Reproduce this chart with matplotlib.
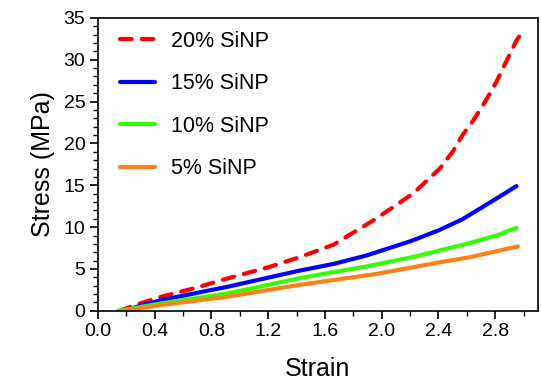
import matplotlib
matplotlib.use("Agg")
import matplotlib.pyplot as plt
from matplotlib.ticker import MultipleLocator

plt.rcParams['font.family'] = ['Liberation Sans', 'DejaVu Sans']

# --- data ---
strain_20 = [0.15, 0.30, 0.45, 0.70, 0.92, 1.20, 1.42, 1.66, 1.96, 2.22, 2.41, 2.50, 2.57, 2.64, 2.73, 2.81, 2.89, 2.95, 2.97]
stress_20 = [0.0, 0.9, 1.7, 2.8, 3.9, 5.2, 6.4, 7.9, 11.0, 14.0, 17.0, 19.0, 21.0, 22.6, 25.0, 27.4, 30.2, 32.3, 32.8]

strain_15 = [0.17, 0.45, 0.92, 1.42, 1.66, 1.89, 2.20, 2.40, 2.57, 2.75, 2.95]
stress_15 = [0.0, 1.3, 2.9, 4.8, 5.6, 6.6, 8.3, 9.6, 10.95, 12.8, 14.9]

strain_10 = [0.14, 0.45, 0.92, 1.42, 1.89, 2.24, 2.62, 2.83, 2.88, 2.95]
stress_10 = [0.0, 0.9, 2.1, 3.9, 5.3, 6.5, 8.1, 9.1, 9.5, 9.9]

strain_5 = [0.17, 0.45, 0.92, 1.42, 1.96, 2.41, 2.62, 2.96]
stress_5 = [0.0, 0.7, 1.7, 3.1, 4.4, 5.8, 6.4, 7.7]

labels = ["20% SiNP", "15% SiNP", "10% SiNP", "5% SiNP"]

fig = plt.figure(figsize=(5.41, 3.80), dpi=100)
ax = fig.add_axes([0.181, 0.182, 0.813, 0.771])

lw = 3.0
ax.plot(strain_20, stress_20, color="#ff0000", lw=lw, dashes=(2.8, 2.4),
        dash_capstyle="round", label=labels[0])
ax.plot(strain_15, stress_15, color="#0000ff", lw=lw, solid_capstyle="round", label=labels[1])
ax.plot(strain_10, stress_10, color="#33ff00", lw=lw, solid_capstyle="round", label=labels[2])
ax.plot(strain_5, stress_5, color="#ff8019", lw=lw, solid_capstyle="round", label=labels[3])

ax.set_xlim(0, 3.1)
ax.set_ylim(0, 35)
ax.xaxis.set_major_locator(MultipleLocator(0.4))
ax.xaxis.set_minor_locator(MultipleLocator(0.2))
ax.yaxis.set_major_locator(MultipleLocator(5))
ax.yaxis.set_minor_locator(MultipleLocator(1))
ax.xaxis.set_major_formatter(lambda v, p: f"{v:.1f}")

ax.tick_params(which="major", direction="out", length=6, width=1.2, labelsize=14, pad=3)
ax.tick_params(which="minor", direction="out", length=3.5, width=1.0)
for s in ax.spines.values():
    s.set_linewidth(1.2)

ax.set_xlabel("Strain", fontsize=18, labelpad=12)
ax.set_ylabel("Stress (MPa)", fontsize=18, labelpad=6)

ax.legend(loc="upper left", frameon=False, fontsize=15.5, handlelength=1.65,
          handletextpad=0.75, labelspacing=1.0, borderaxespad=0.2,
          bbox_to_anchor=(0.02, 1.0))

fig.savefig("out.png", dpi=100)
